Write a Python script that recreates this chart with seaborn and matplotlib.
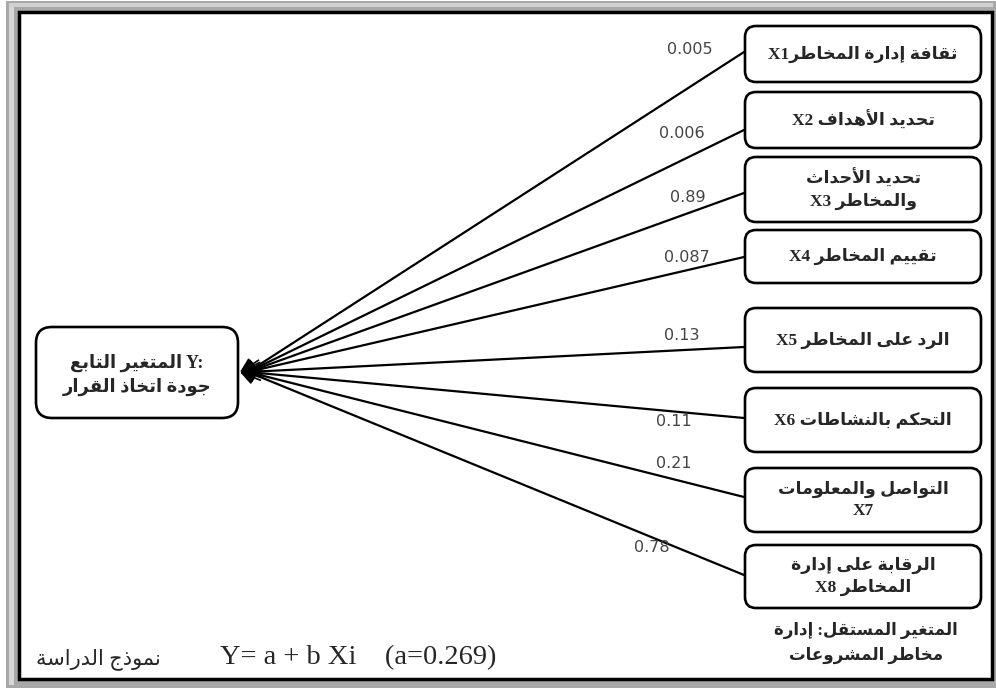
"""
study model diagram: risk management dimensions -> decision quality
"""
from itertools import groupby

import pandas as pd
import matplotlib.pyplot as plt
import seaborn as sns
from matplotlib.patches import FancyBboxPatch, Rectangle

# data
factors = ["ثقافة إدارة المخاطرX1",
           "تحديد الأهداف X2",
           "تحديد الأحداث\nوالمخاطر X3",
           "تقييم المخاطر X4",
           "الرد على المخاطر X5",
           "التحكم بالنشاطات X6",
           "التواصل والمعلومات\nX7",
           "الرقابة على إدارة\nالمخاطر X8"]
coefs = ["0.005", "0.006", "0.89", "0.087", "0.13", "0.11", "0.21", "0.78"]
target = "المتغير التابع Y:\nجودة اتخاذ القرار"
indep = "المتغير المستقل: إدارة\nمخاطر المشروعات"
model_ar = "نموذج الدراسة"
model_eq = "Y= a + b Xi    (a=0.269)"

# layout (pixels)
box_top = [26, 92, 157, 230, 308, 388, 468, 545]
box_bot = [82, 148, 222, 283, 372, 452, 532, 608]
line_end = [52, 130, 193, 257, 347, 418, 497, 575]
label_xy = [(690, 49), (682, 134), (688, 198), (687, 258),
            (682, 336), (674, 421), (674, 463), (652, 548)]
tip = (240, 372)

# arabic presentation forms, matplotlib does not shape text itself
FORMS = {'آ': 0xFE81, 'أ': 0xFE83, 'إ': 0xFE87, 'ا': 0xFE8D, 'ب': 0xFE8F,
         'ة': 0xFE93, 'ت': 0xFE95, 'ث': 0xFE99, 'ج': 0xFE9D, 'ح': 0xFEA1,
         'خ': 0xFEA5, 'د': 0xFEA9, 'ذ': 0xFEAB, 'ر': 0xFEAD, 'ز': 0xFEAF,
         'س': 0xFEB1, 'ش': 0xFEB5, 'ص': 0xFEB9, 'ض': 0xFEBD, 'ط': 0xFEC1,
         'ظ': 0xFEC5, 'ع': 0xFEC9, 'غ': 0xFECD, 'ف': 0xFED1, 'ق': 0xFED5,
         'ك': 0xFED9, 'ل': 0xFEDD, 'م': 0xFEE1, 'ن': 0xFEE5, 'ه': 0xFEE9,
         'و': 0xFEED, 'ى': 0xFEEF, 'ي': 0xFEF1}
RIGHT_ONLY = set('آأإادذرزوةى')
LAM_ALEF = {'آ': 0xFEF5, 'أ': 0xFEF7, 'إ': 0xFEF9, 'ا': 0xFEFB}


def shape(s):
    out = []
    i = 0
    n = len(s)
    while i < n:
        c = s[i]
        if c not in FORMS:
            out.append(c)
            i += 1
            continue
        prev = i > 0 and s[i - 1] in FORMS and s[i - 1] not in RIGHT_ONLY
        if c == 'ل' and i + 1 < n and s[i + 1] in LAM_ALEF:
            out.append(chr(LAM_ALEF[s[i + 1]] + int(prev)))
            i += 2
            continue
        nxt = c not in RIGHT_ONLY and i + 1 < n and s[i + 1] in FORMS
        form = {(False, False): 0, (True, False): 1,
                (False, True): 2, (True, True): 3}[(bool(prev), bool(nxt))]
        out.append(chr(FORMS[c] + form))
        i += 1
    return ''.join(out)


def latin(ch):
    return ch.isascii() and ch.isalnum()


def rtl(s, base='R'):
    lines = []
    for line in s.split('\n'):
        t = shape(line)
        runs = [''.join(g) for k, g in groupby(t, key=latin)]
        if base == 'R':
            vis = [r if latin(r[0]) else r[::-1] for r in reversed(runs)]
        else:
            # ltr paragraph: arabic runs flipped, edge spaces stay put
            vis = []
            for r in runs:
                if latin(r[0]):
                    vis.append(r)
                else:
                    core = r.strip(' ')
                    lead = r[:len(r) - len(r.lstrip(' '))]
                    trail = r[len(r.rstrip(' ')):]
                    vis.append(lead + core[::-1] + trail)
        lines.append(''.join(vis))
    return '\n'.join(lines)


sns.set_theme(style="white")
plt.rcParams['font.family'] = ['Liberation Serif', 'DejaVu Sans']
mixed = ['Liberation Serif', 'DejaVu Sans']

fig = plt.figure(figsize=(9.96, 6.88), dpi=100)
ax = fig.add_axes([0, 0, 1, 1])
ax.set_xlim(0, 996)
ax.set_ylim(688, 0)
ax.axis('off')

# picture frame
ax.add_patch(Rectangle((6, 1), 990, 687, fc='#a8a8a8', ec='none', zorder=0))
ax.add_patch(Rectangle((9, 3), 5, 682, fc='#d8d8d8', ec='none', zorder=0))
ax.add_patch(Rectangle((9, 3), 984, 4, fc='#d0d0d0', ec='none', zorder=0))
ax.add_patch(Rectangle((19, 12), 973, 667, fc='white', ec='black', lw=2.5, zorder=0))

# lines from every factor box to Y
rows = []
for i, y in enumerate(line_end):
    rows.append({"path": i, "x": 744, "y": y})
    rows.append({"path": i, "x": tip[0] + 8, "y": tip[1]})
df = pd.DataFrame(rows)
sns.lineplot(data=df, x="x", y="y", units="path", estimator=None, sort=False,
             color="black", lw=1.6, ax=ax, legend=False)
for y in line_end:
    dx, dy = 744 - tip[0], y - tip[1]
    d = (dx ** 2 + dy ** 2) ** 0.5
    ax.annotate('', xy=tip, xytext=(tip[0] + 22 * dx / d, tip[1] + 22 * dy / d),
                arrowprops=dict(arrowstyle='-|>', color='black', lw=1.2,
                                mutation_scale=22, shrinkA=0, shrinkB=0))

for (lx, ly), c in zip(label_xy, coefs):
    ax.text(lx, ly, c, ha='center', va='center', fontsize=11.5,
            color='#444444', family='DejaVu Sans')

# factor boxes
for name, t, b in zip(factors, box_top, box_bot):
    ax.add_patch(FancyBboxPatch((745, t), 236, b - t,
                                boxstyle="round,pad=0,rounding_size=11",
                                fc='white', ec='black', lw=1.9, zorder=3))
    ax.text(863, (t + b) / 2, rtl(name), ha='center', va='center',
            fontsize=12.5, fontweight='bold', family=mixed, zorder=4,
            linespacing=1.4)

# dependent variable box
ax.add_patch(FancyBboxPatch((36, 327), 202, 91,
                            boxstyle="round,pad=0,rounding_size=16",
                            fc='white', ec='black', lw=1.9, zorder=3))
ax.text(137, 375, rtl(target, base='L'), ha='center', va='center', fontsize=13,
        fontweight='bold', family=mixed, zorder=4, linespacing=1.45)

ax.text(866, 643, rtl(indep), ha='center', va='center', fontsize=12,
        fontweight='bold', family=mixed, linespacing=1.55)

# study model line at the bottom
ax.text(220, 664, model_eq, ha='left', va='baseline', fontsize=20.5,
        family=mixed)
ax.text(36, 664, rtl(model_ar), ha='left', va='baseline', fontsize=15,
        family=mixed)

plt.savefig("out.png", dpi=100)
